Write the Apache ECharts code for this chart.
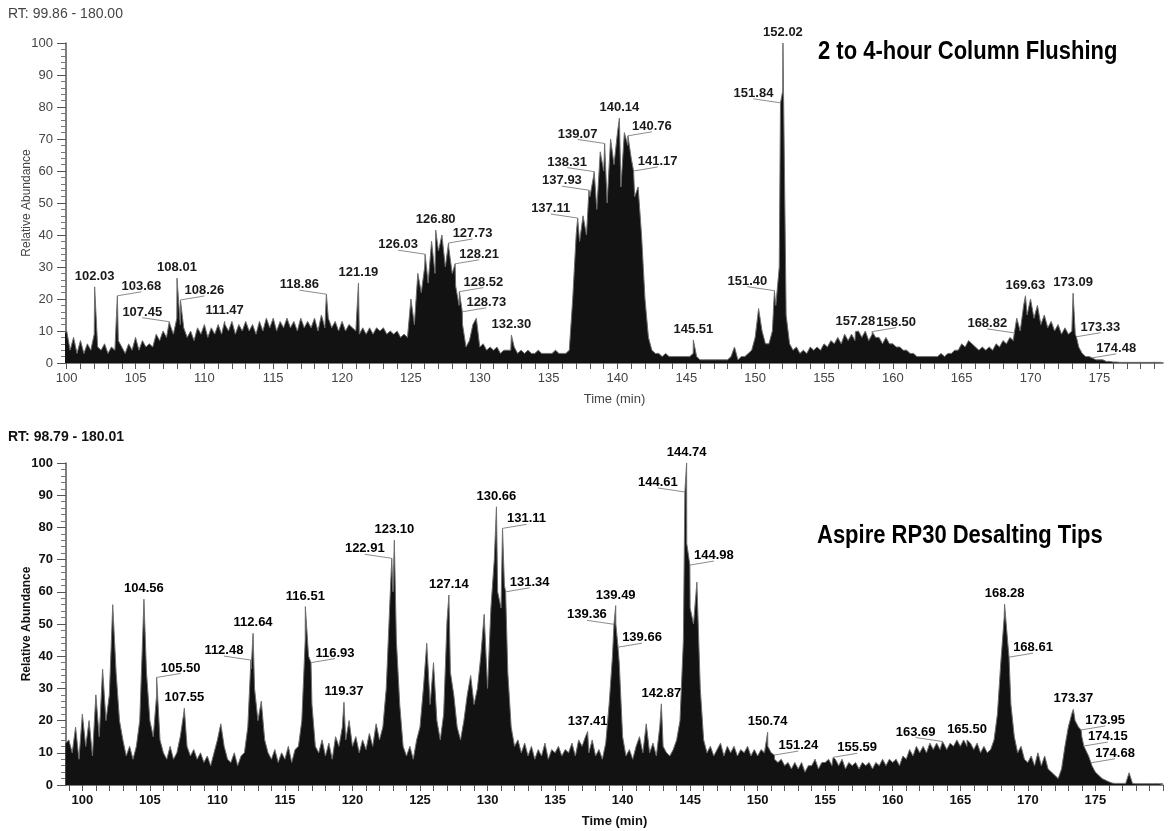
<!DOCTYPE html>
<html><head><meta charset="utf-8">
<script src="https://cdn.jsdelivr.net/npm/echarts@6/dist/echarts.min.js"></script>
<style>html,body{margin:0;padding:0;background:#fff}#c{width:1176px;height:831px}</style>
</head><body><div id="c"></div>
<script>
// ---------- DATA ----------
const STEP = 0.25;                 // sampling step of the traces (min)
const topStart = 99.75;            // time of first value in topValues
const topValues = [
  9,
  10,4,8,3,  7,3,6,4,  9,5,4,6,  3,5,4,7,  5,3,6,4,          // 100-104
  8,4,7,5,  6,5,9,7,  10,8,12,9,  14,12,11,8,  10,7,11,9,   // 105-109
  12,8,11,9,  12,9,12,10,  13,9,12,10,  13,10,12,9,  13,10,14,11, // 110-114
  14,10,13,11,  14,11,13,10,  14,11,13,11,  14,10,15,11,  14,11,13,10, // 115-119
  13,10,12,11,  10,9,11,9,  11,9,11,10,  11,9,10,9,  10,8,9,8, // 120-124
  20,12,28,22,  30,25,38,28,  35,40,30,36,  28,24,18,12,  5,7,12,14, // 125-129
  5,6,4,5,  4,5,3,4,  4,4,5,3,  4,3,4,3,  3,4,3,3,          // 130-134
  3,3,4,3,  3,3,4,20,  40,38,46,40,  52,58,48,66,  60,50,70,62, // 135-139
  72,55,72,68,  64,52,55,40,  20,8,4,3,  3,2,3,2,  2,2,2,2, // 140-144
  2,2,3,2,  1,1,1,1,  1,1,1,1,  1,2,5,1,  2,2,3,4,          // 145-149
  8,17,10,6,  6,10,18,30,  85,15,6,4,  5,3,4,3,  5,4,5,4,   // 150-154
  6,5,7,6,  8,6,9,7,  9,7,10,8,  10,7,9,8,  8,6,8,6,        // 155-159
  6,5,5,4,  4,3,3,2,  2,2,2,2,  2,2,3,2,  3,3,4,4,          // 160-164
  6,5,7,6,  5,4,5,4,  5,4,6,5,  7,6,8,7,  14,10,18,15,      // 165-169
  20,14,18,12,  15,11,13,10,  12,9,11,9,  10,9,5,3,  2,2,2,1, // 170-174
  1,1,0.5,0.5,  0.3,0.3,0.2,0.2,  0.2,0.2,0.2,0.2,  0.2,0.2,0.2,0.2, // 175-178
  0.2,0.2,0.2                                              // 179-179.5
];
const topPeakTimes  = [102.03,103.68,107.45,108.01,108.26,111.47,118.86,121.19,126.03,126.80,127.73,128.21,128.52,128.73,132.30,137.11,137.93,138.31,139.07,140.14,140.76,141.17,145.51,151.40,151.84,152.02,157.28,158.50,168.82,169.63,173.09,173.33,174.48];
const topPeakValues = [23.8,21,12.9,26.5,19.7,13,21.5,25,34,41.5,37.5,31,22.3,16,8.7,45.3,54,59.8,68.6,76.5,71,60,7.2,22.6,81.3,100,9.8,9.8,9.4,21,21.8,8.2,1.6];
const topLabelSides = ['c','r','l','c','r','c','l','c','l','c','r','r','r','r','c','l','l','l','l','c','r','r','c','l','l','c','c','r','l','c','c','r','r'];

const botStart = 98.75;
const botValues = [
  13,
  14,10,18,8,  22,12,20,9,  28,15,36,20,  28,56,35,20,  14,9,12,8,        // 99-103
  12,20,50,35,  20,15,28,14,  10,8,12,8,  10,15,22,12,  9,11,8,10,       // 104-108
  7,9,6,10,  14,19,12,8,  7,10,6,9,  10,18,36,30,  20,26,14,10,          // 109-113
  8,11,7,10,  8,12,7,11,  12,20,45,40,  25,12,10,14,  9,13,8,15,         // 114-118
  12,18,14,20,  12,15,10,14,  11,16,12,19,  14,18,30,55,  60,45,25,12,   // 119-123
  9,12,8,14,  18,30,44,25,  38,20,14,22,  51,35,28,18,  14,20,28,34,     // 124-128
  25,30,40,53,  30,55,70,60,  55,62,35,18,  12,14,10,13,  9,12,8,11,     // 129-133
  9,13,8,11,  10,12,9,11,  10,13,9,14,  12,15,10,14,  9,11,8,13,         // 134-138
  25,40,50,38,  15,9,11,8,  12,15,10,19,  10,13,9,18,  12,10,9,11,       // 139-143
  14,20,45,75,  55,50,63,30,  14,10,12,9,  11,13,9,12,  10,12,9,11,      // 144-148
  10,12,9,11,  9,11,10,12,  10,8,7,8,  6,7,5,7,  5,7,4,6,                // 149-153
  6,8,5,7,  7,8,6,8,  6,8,5,7,  6,7,5,7,  6,7,5,7,                       // 154-158
  6,8,6,8,  7,8,6,9,  8,11,9,12,  10,12,10,13,  11,13,11,13,             // 159-163
  11,13,12,14,  12,14,12,13,  11,13,10,12,  10,11,14,22,  38,52,45,25,   // 164-168
  15,10,12,8,  7,9,6,10,  6,9,5,4,  3,2,5,12,  18,22,20,18,              // 169-173
  15,12,9,6,  4,3,2,1.5,  1,0.6,0.5,0.5,  0.5,0.5,3.8,0.5,  0.4,0.4,0.4,0.4, // 174-178
  0.4,0.4,0.4,0.4,  0.4                                                  // 179-180
];
const botPeakTimes  = [104.56,105.50,107.55,112.48,112.64,116.51,116.93,119.37,122.91,123.10,127.14,130.66,131.11,131.34,137.41,139.36,139.49,139.66,142.87,144.61,144.74,144.98,150.74,151.24,155.59,163.69,165.50,168.28,168.61,173.37,173.95,174.15,174.68];
const botPeakValues = [57.7,33.4,23.8,38.8,47.1,55.4,38,25.7,70.4,76,59,86.4,79.7,60,16.6,49.9,55.7,42.8,25.2,91,100,68.3,16.4,9.3,8.6,13.5,14,56.2,39.7,23.5,17.1,12.1,6.9];
const botLabelSides = ['c','r','c','l','c','c','r','c','l','c','c','c','r','r','c','l','c','r','c','l','c','r','c','r','r','l','c','c','r','c','r','r','r'];

const xLabelValues = [100,105,110,115,120,125,130,135,140,145,150,155,160,165,170,175];
const topTickRange = [100, 179];
const botTickRange = [99, 180];

// ---------- BUILD ----------
const FONT = '"Liberation Sans", Arial, Helvetica, sans-serif';
function range(a, b) { const r = []; for (let v = a; v <= b; v++) r.push(v); return r; }
function buildTrace(start, values, pt, pv) {
  const pts = values.map((v, i) => [+(start + i * STEP).toFixed(2), v]);
  pt.forEach((t, i) => pts.push([t, pv[i]]));
  pts.sort((a, b) => a[0] - b[0]);
  return pts;
}
function labelRenderer(times, sides, color) {
  return function (params, api) {
    const i = params.dataIndex;
    const p = api.coord([api.value(0), api.value(1)]);
    const side = sides[i];
    const dx = side === 'l' ? -27 : side === 'r' ? 24 : 0;
    const tx = p[0] + dx, ty = p[1] - (side === 'c' ? 4 : 3);
    const children = [{
      type: 'text',
      style: { text: times[i].toFixed(2), x: tx, y: ty, align: 'center', verticalAlign: 'bottom',
               font: 'bold 13px ' + FONT, fill: color }
    }];
    if (side !== 'c') {
      children.push({ type: 'line', shape: { x1: tx, y1: ty - 1, x2: p[0], y2: p[1] },
                      style: { stroke: '#8c8c8c', lineWidth: 1 } });
    }
    return { type: 'group', children };
  };
}
function xAxisCfg(gi, min, max, ticks, bold, gap) {
  const col = bold ? '#111' : '#444';
  return {
    gridIndex: gi, type: 'value', min, max,
    axisLine: { show: true, onZero: false, lineStyle: { color: '#555', width: 1.5 } },
    axisTick: { show: true, customValues: range(ticks[0], ticks[1]), length: 6, lineStyle: { color: '#555' } },
    axisLabel: { customValues: xLabelValues, margin: 9, fontSize: 13, color: col,
                 fontWeight: bold ? 'bold' : 'normal', fontFamily: FONT },
    splitLine: { show: false },
    name: 'Time (min)', nameLocation: 'middle', nameGap: gap,
    nameTextStyle: { fontSize: 13, color: col, fontWeight: bold ? 'bold' : 'normal', fontFamily: FONT }
  };
}
function yAxisCfg(gi, bold) {
  const col = bold ? '#111' : '#444';
  return {
    gridIndex: gi, type: 'value', min: 0, max: 100, interval: 10,
    axisLine: { show: true, lineStyle: { color: '#555', width: 1.5 } },
    axisTick: { show: true, length: 9, lineStyle: { color: '#555' } },
    minorTick: { show: true, splitNumber: 5, length: 5, lineStyle: { color: '#777' } },
    splitLine: { show: false }, minorSplitLine: { show: false },
    axisLabel: { margin: 13, fontSize: 13, color: col, fontWeight: bold ? 'bold' : 'normal', fontFamily: FONT },
    name: 'Relative Abundance', nameLocation: 'middle', nameGap: 33, nameMoveOverlap: false,
    nameTextStyle: { fontSize: 12, color: col, fontWeight: bold ? 'bold' : 'normal', fontFamily: FONT }
  };
}
const traceStyle = {
  type: 'line', showSymbol: false, symbol: 'none', sampling: null, animation: false,
  lineStyle: { color: '#6e6e6e', width: 1 }, areaStyle: { color: '#121212', opacity: 1 }, z: 2
};

const chart = echarts.init(document.getElementById('c'));
chart.setOption({
  backgroundColor: '#fff',
  animation: false,
  title: [
    { text: 'RT: 99.86 - 180.00', left: 8, top: 7, padding: 0,
      textStyle: { fontSize: 14, fontWeight: 'normal', color: '#444', fontFamily: FONT } },
    { text: 'RT: 98.79 - 180.01', left: 8, top: 430, padding: 0,
      textStyle: { fontSize: 14, fontWeight: 'bold', color: '#111', fontFamily: FONT } }
  ],
  graphic: [
    { type: 'text', left: 818, top: 40, scaleX: 0.88, z: 10,
      style: { text: '2 to 4-hour Column Flushing', font: 'bold 25px ' + FONT, fill: '#000' } },
    { type: 'text', left: 817, top: 524, scaleX: 0.88, z: 10,
      style: { text: 'Aspire RP30 Desalting Tips', font: 'bold 25px ' + FONT, fill: '#000' } }
  ],
  grid: [
    { left: 66, top: 43, width: 1097, height: 320 },
    { left: 66, top: 463, width: 1097, height: 322 }
  ],
  xAxis: [
    xAxisCfg(0, 99.95, 179.62, topTickRange, false, 30),
    xAxisCfg(1, 98.79, 180.01, botTickRange, true, 30)
  ],
  yAxis: [yAxisCfg(0, false), yAxisCfg(1, true)],
  series: [
    Object.assign({}, traceStyle, { xAxisIndex: 0, yAxisIndex: 0,
      data: buildTrace(topStart, topValues, topPeakTimes, topPeakValues) }),
    Object.assign({}, traceStyle, { xAxisIndex: 1, yAxisIndex: 1,
      data: buildTrace(botStart, botValues, botPeakTimes, botPeakValues) }),
    { type: 'custom', xAxisIndex: 0, yAxisIndex: 0, clip: false, silent: true, z: 5,
      data: topPeakTimes.map((t, i) => [t, topPeakValues[i]]),
      renderItem: labelRenderer(topPeakTimes, topLabelSides, '#1a1a1a') },
    { type: 'custom', xAxisIndex: 1, yAxisIndex: 1, clip: false, silent: true, z: 5,
      data: botPeakTimes.map((t, i) => [t, botPeakValues[i]]),
      renderItem: labelRenderer(botPeakTimes, botLabelSides, '#000') }
  ]
});
</script></body></html>
